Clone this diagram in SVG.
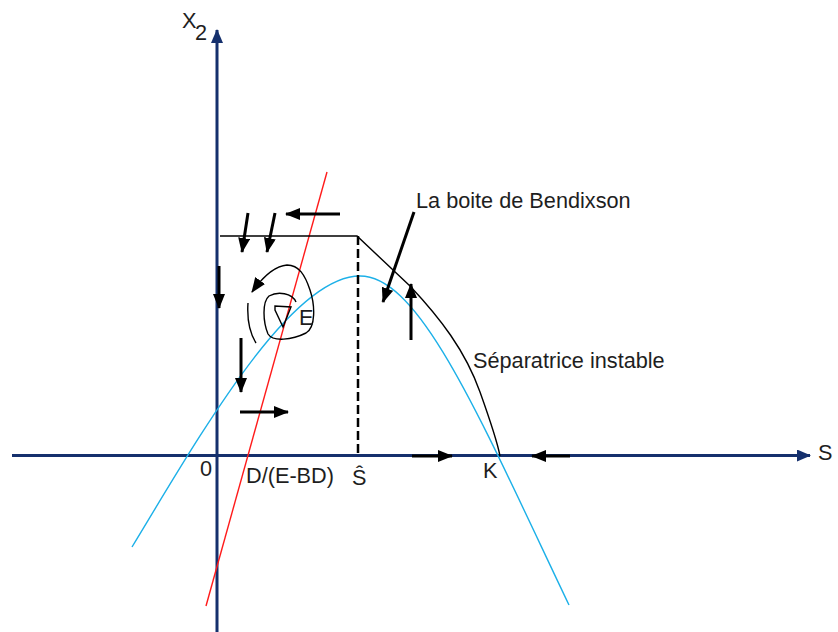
<svg xmlns="http://www.w3.org/2000/svg" width="838" height="632" viewBox="0 0 838 632">
<style>
.ax{stroke:#15306d;stroke-width:3;fill:none}
.arr{stroke:#000;stroke-width:3;fill:none;marker-end:url(#ah)}
.thin{stroke:#000;stroke-width:1.4;fill:none}
.lbl{font-family:"Liberation Sans",Arial,sans-serif;font-size:21.7px;fill:#1e1e1e}
</style>
<defs>
<marker id="ah" markerUnits="userSpaceOnUse" markerWidth="15" markerHeight="12" refX="14" refY="6" orient="auto"><path d="M0,0 L15,6 L0,12 Z" fill="#000"/></marker>
<marker id="axh" markerUnits="userSpaceOnUse" markerWidth="14" markerHeight="12" refX="13" refY="6" orient="auto"><path d="M0,0 L14,6 L0,12 Z" fill="#15306d"/></marker>
</defs>
<rect width="838" height="632" fill="#fff"/>
<g id="axes">
<line class="ax" x1="12" y1="455.5" x2="810" y2="455.5" marker-end="url(#axh)"/>
<line class="ax" x1="217" y1="632" x2="217" y2="30" marker-end="url(#axh)"/>
</g>
<g id="curves">
<path d="M132,547 C200,435 290,276 360,276 C420,276 479,416 569,605" fill="none" stroke="#1cb0e8" stroke-width="1.4"/>
<line x1="206" y1="606" x2="327" y2="172" stroke="#ff1a1a" stroke-width="1.4"/>
<path class="thin" d="M220,236 L357,236 L410,286 C440,318 465,350 480,392 C490,420 497,440 500,456"/>
<line x1="358" y1="236" x2="358" y2="456" stroke="#000" stroke-width="2.5" stroke-dasharray="9 4"/>
<path class="thin" d="M283,327 L275,310 L275,306 L291,307 Z"/>
<path class="thin" d="M296,302 C292,293 278,291 269,296 C262,302 263,322 268,334 C273,342 292,340 306,333 C316,327 315,305 310,290 C305,275 299,265 287,265 C275,266 262,278 252,292" marker-end="url(#ah)"/>
<path class="thin" d="M248,303 C247,318 249,332 256,343"/>
</g>
<g id="connectors">
<line class="arr" x1="340" y1="214" x2="286" y2="214"/>
<line class="arr" x1="248" y1="213" x2="242" y2="252"/>
<line class="arr" x1="275" y1="213" x2="267" y2="252"/>
<line class="arr" x1="219" y1="266" x2="219" y2="308"/>
<line class="arr" x1="241" y1="338" x2="241" y2="392"/>
<line class="arr" x1="240" y1="412" x2="288" y2="412"/>
<line class="arr" x1="414" y1="212" x2="383" y2="302"/>
<line class="arr" x1="411" y1="340" x2="411" y2="284"/>
<line class="arr" x1="412" y1="456" x2="452" y2="456"/>
<line class="arr" x1="570" y1="456" x2="532" y2="456"/>
</g>
<g id="labels">
<text class="lbl" x="182" y="28">X</text>
<text class="lbl" x="195" y="40">2</text>
<text class="lbl" x="299" y="325">E</text>
<text class="lbl" x="416" y="208">La boite de Bendixson</text>
<text class="lbl" x="473" y="368">Séparatrice instable</text>
<text class="lbl" x="200" y="476">0</text>
<text class="lbl" x="246" y="483">D/(E-BD)</text>
<text class="lbl" x="352" y="485">Ŝ</text>
<text class="lbl" x="483" y="478">K</text>
<text class="lbl" x="818" y="460">S</text>
</g>
</svg>
